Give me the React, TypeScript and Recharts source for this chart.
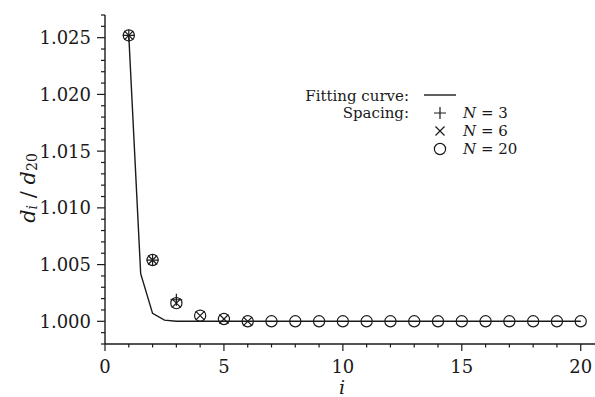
import React from "react";
import {
  ComposedChart,
  Line,
  Scatter,
  XAxis,
  YAxis,
} from "recharts";

const FONT = "'DejaVu Serif', serif";
const INK = "#1a1a1a";
const txt = { fontFamily: FONT };

// fitting curve, sampled where the kinks are visible
const fitX = [1, 1.5, 2, 2.5, 3, 4, 5, 6, 7, 8, 9, 10, 11, 12, 13, 14, 15, 16, 17, 18, 19, 20];
const fitY = [
  1.0252, 1.0042, 1.0007, 1.0001, 1.0, 1.0, 1.0, 1.0, 1.0, 1.0, 1.0, 1.0, 1.0, 1.0, 1.0, 1.0,
  1.0, 1.0, 1.0, 1.0, 1.0, 1.0,
];

// spacing, N = 3
const n3X = [1, 2, 3];
const n3Y = [1.0252, 1.0054, 1.0019];

// spacing, N = 6
const n6X = [1, 2, 3, 4, 5, 6];
const n6Y = [1.0252, 1.0054, 1.0016, 1.0005, 1.0002, 1.0];

// spacing, N = 20
const n20X = [1, 2, 3, 4, 5, 6, 7, 8, 9, 10, 11, 12, 13, 14, 15, 16, 17, 18, 19, 20];
const n20Y = [
  1.0252, 1.0054, 1.0016, 1.0005, 1.0002, 1.0, 1.0, 1.0, 1.0, 1.0, 1.0, 1.0, 1.0, 1.0, 1.0,
  1.0, 1.0, 1.0, 1.0, 1.0,
];

const xTicks = [0, 1, 2, 3, 4, 5, 6, 7, 8, 9, 10, 11, 12, 13, 14, 15, 16, 17, 18, 19, 20];
const xMajor = [0, 5, 10, 15, 20];
const yTicks = [
  0.998, 0.999, 1.0, 1.001, 1.002, 1.003, 1.004, 1.005, 1.006, 1.007, 1.008, 1.009, 1.01,
  1.011, 1.012, 1.013, 1.014, 1.015, 1.016, 1.017, 1.018, 1.019, 1.02, 1.021, 1.022, 1.023,
  1.024, 1.025, 1.026, 1.027,
];
const yMajor = [1.0, 1.005, 1.01, 1.015, 1.02, 1.025];
const yMajorLabels = ["1.000", "1.005", "1.010", "1.015", "1.020", "1.025"];

const zip = (xs: number[], ys: number[]) => xs.map((x, i) => ({ x, y: ys[i] }));
const fitData = zip(fitX, fitY);
const n3Data = zip(n3X, n3Y);
const n6Data = zip(n6X, n6Y);
const n20Data = zip(n20X, n20Y);

const Plus = ({ cx, cy }: any) => (
  <path d={`M${cx - 6},${cy}H${cx + 6}M${cx},${cy - 6}V${cy + 6}`} stroke={INK} strokeWidth={1.2} fill="none" />
);
const Cross = ({ cx, cy }: any) => (
  <path
    d={`M${cx - 4.5},${cy - 4.5}L${cx + 4.5},${cy + 4.5}M${cx - 4.5},${cy + 4.5}L${cx + 4.5},${cy - 4.5}`}
    stroke={INK}
    strokeWidth={1.2}
    fill="none"
  />
);
const Ring = ({ cx, cy }: any) => (
  <circle cx={cx} cy={cy} r={5.6} stroke={INK} strokeWidth={1.2} fill="none" />
);

const YTick = ({ x, y, payload }: any) => {
  const k = yMajor.findIndex((v) => Math.abs(v - payload.value) < 1e-6);
  const major = k >= 0;
  return (
    <g>
      <line x1={x - (major ? 8 : 4)} x2={x} y1={y} y2={y} stroke={INK} strokeWidth={1.2} />
      {major && (
        <text x={x - 14} y={y} textAnchor="end" dominantBaseline="central" style={txt} fontSize={18} fill={INK}>
          {yMajorLabels[k]}
        </text>
      )}
    </g>
  );
};

const XTick = ({ x, y, payload }: any) => {
  const major = xMajor.includes(payload.value);
  return (
    <g>
      <line x1={x} x2={x} y1={y} y2={y + (major ? 7 : 3.5)} stroke={INK} strokeWidth={1.2} />
      {major && (
        <text x={x} y={y + 22} textAnchor="middle" dominantBaseline="central" style={txt} fontSize={18} fill={INK}>
          {payload.value}
        </text>
      )}
    </g>
  );
};

const TopTick = ({ x, y }: any) => (
  <line x1={x} x2={x} y1={y} y2={y - 2.5} stroke={INK} strokeWidth={1} />
);

export default function App() {
  return (
    <div style={{ position: "fixed", left: 0, top: 0, width: 595, height: 397, background: "#fff" }}>
      <ComposedChart width={595} height={397} margin={{ top: 15, right: 0, bottom: 0, left: 0 }}>
        <XAxis
          dataKey="x"
          type="number"
          domain={[0, 20.6]}
          allowDataOverflow
          ticks={xTicks}
          interval={0}
          tick={<XTick />}
          tickLine={false}
          tickSize={0}
          tickMargin={0}
          height={53}
          axisLine={{ stroke: INK, strokeWidth: 1.4 }}
        />
        <XAxis
          xAxisId="top"
          orientation="top"
          type="number"
          domain={[0, 20.6]}
          allowDataOverflow
          ticks={xTicks}
          interval={0}
          tick={<TopTick />}
          tickLine={false}
          tickSize={0}
          tickMargin={0}
          height={0}
          axisLine={{ stroke: INK, strokeWidth: 1.4 }}
        />
        <YAxis
          dataKey="y"
          type="number"
          domain={[0.998, 1.027]}
          allowDataOverflow
          ticks={yTicks}
          interval={0}
          tick={<YTick />}
          tickLine={false}
          tickSize={0}
          tickMargin={0}
          width={105}
          axisLine={{ stroke: INK, strokeWidth: 1.4 }}
        />
        <Line
          data={fitData}
          dataKey="y"
          type="linear"
          stroke={INK}
          strokeWidth={1.4}
          dot={false}
          isAnimationActive={false}
        />
        <Scatter data={n20Data} dataKey="y" shape={<Ring />} isAnimationActive={false} />
        <Scatter data={n6Data} dataKey="y" shape={<Cross />} isAnimationActive={false} />
        <Scatter data={n3Data} dataKey="y" shape={<Plus />} isAnimationActive={false} />
      </ComposedChart>

      <svg width={595} height={397} style={{ position: "absolute", left: 0, top: 0, pointerEvents: "none" }}>
        <text
          transform="translate(28,188) rotate(-90)"
          textAnchor="middle"
          dominantBaseline="central"
          style={txt}
          fontSize={21}
          fill={INK}
        >
          <tspan fontStyle="italic">d</tspan>
          <tspan fontStyle="italic" fontSize={14} dy={4}>i</tspan>
          <tspan dy={-4}> / </tspan>
          <tspan fontStyle="italic">d</tspan>
          <tspan fontSize={14} dy={4}>20</tspan>
        </text>
        <text x={342} y={387} textAnchor="middle" dominantBaseline="central" style={txt} fontSize={19} fontStyle="italic" fill={INK}>
          i
        </text>

        <g style={txt} fontSize={15} fill={INK}>
          <text x={409} y={96} textAnchor="end" dominantBaseline="central">Fitting curve:</text>
          <line x1={424} x2={456} y1={95} y2={95} stroke={INK} strokeWidth={1.4} />
          <text x={409} y={113} textAnchor="end" dominantBaseline="central">Spacing:</text>
          <Plus cx={440} cy={113} />
          <text x={463} y={113} dominantBaseline="central">
            <tspan fontStyle="italic">N</tspan> = 3
          </text>
          <Cross cx={440} cy={131} />
          <text x={463} y={131} dominantBaseline="central">
            <tspan fontStyle="italic">N</tspan> = 6
          </text>
          <Ring cx={440} cy={149} />
          <text x={463} y={149} dominantBaseline="central">
            <tspan fontStyle="italic">N</tspan> = 20
          </text>
        </g>
      </svg>
    </div>
  );
}
